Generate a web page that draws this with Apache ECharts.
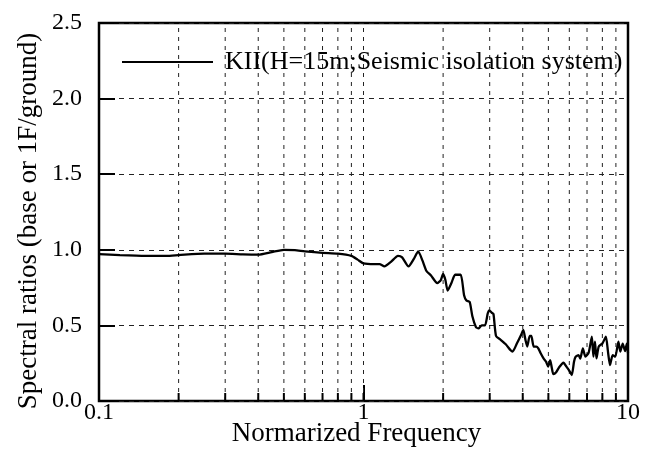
<!DOCTYPE html>
<html>
<head>
<meta charset="utf-8">
<script src="https://cdn.jsdelivr.net/npm/echarts@6/dist/echarts.min.js"></script>
<style>
  html, body { margin: 0; padding: 0; background: #fff; }
  #chart { width: 659px; height: 460px; }
</style>
</head>
<body>
<div id="chart"></div>
<script>
// Spectral ratio vs. normalized frequency
const seriesName = 'KII(H=15m;Seismic isolation system)';
const freq = [
  0.1, 0.12, 0.15, 0.18, 0.2, 0.25, 0.3, 0.35, 0.4, 0.45, 0.5, 0.55, 0.6, 0.7, 0.8, 0.9, 0.95,
  1.0, 1.1, 1.15, 1.2, 1.27, 1.35, 1.4, 1.48, 1.55, 1.61, 1.67, 1.73, 1.8, 1.9, 1.96, 2.0, 2.04,
  2.08, 2.15, 2.22, 2.33, 2.4, 2.45, 2.52, 2.58, 2.66, 2.72, 2.8, 2.88, 2.95, 2.99, 3.05, 3.1,
  3.17, 3.3, 3.45, 3.6, 3.66, 3.8, 3.95, 4.02, 4.1, 4.16, 4.25, 4.31, 4.4, 4.5, 4.58, 4.67, 4.8,
  4.9, 4.99, 5.08, 5.15, 5.22, 5.35, 5.5, 5.7, 5.85, 6.0, 6.13, 6.25, 6.34, 6.5, 6.6, 6.75, 6.9,
  7.1, 7.3, 7.4, 7.5, 7.6, 7.75, 8.0, 8.25, 8.4, 8.55, 8.75, 8.95, 9.2, 9.35, 9.55, 9.75, 9.9, 10
];
const ratio = [
  0.972, 0.965, 0.96, 0.96, 0.965, 0.975, 0.975, 0.97, 0.968, 0.985, 1.0, 0.998, 0.99, 0.98, 0.975, 0.96, 0.935,
  0.91, 0.905, 0.905, 0.89, 0.92, 0.96, 0.95, 0.89, 0.94, 0.99, 0.93, 0.86, 0.83, 0.78, 0.8, 0.84, 0.8,
  0.73, 0.78, 0.835, 0.835, 0.7, 0.665, 0.655, 0.56, 0.49, 0.48, 0.5, 0.5, 0.58, 0.6, 0.585, 0.575,
  0.43, 0.405, 0.375, 0.335, 0.326, 0.38, 0.44, 0.47, 0.4, 0.36, 0.43, 0.43, 0.36, 0.36, 0.348, 0.317, 0.28,
  0.26, 0.227, 0.27, 0.22, 0.178, 0.19, 0.225, 0.253, 0.227, 0.2, 0.172, 0.26, 0.293, 0.304, 0.28, 0.348, 0.293,
  0.32, 0.425, 0.293, 0.392, 0.282, 0.36, 0.38, 0.425, 0.326, 0.238, 0.304, 0.293, 0.392, 0.326, 0.38, 0.33, 0.38, 0.317
];
// Vertical grid positions (every integer multiple within each decade)
const gridFreqs = [0.2, 0.3, 0.4, 0.5, 0.6, 0.7, 0.8, 0.9, 1, 2, 3, 4, 5, 6, 7, 8, 9];
const yMin = 0, yMax = 2.5, yStep = 0.5;

const FONT = '"Liberation Serif", "Times New Roman", serif';
const chart = echarts.init(document.getElementById('chart'), null, { renderer: 'canvas' });

chart.setOption({
  animation: false,
  backgroundColor: '#fff',
  grid: {
    left: 99, right: 31, top: 23, bottom: 59,
    containLabel: false, outerBoundsMode: 'none',
    show: true, borderColor: '#000', borderWidth: 2.5, backgroundColor: 'transparent'
  },
  legend: {
    data: [seriesName],
    left: 122, top: 49, padding: 0,
    icon: 'rect', itemWidth: 91, itemHeight: 2,
    textStyle: { fontFamily: FONT, fontSize: 26, color: '#000', padding: [0, 0, 0, 7] },
    itemStyle: { color: '#000' }
  },
  xAxis: {
    type: 'log', logBase: 10, min: 0.1, max: 10,
    name: 'Normarized Frequency', nameLocation: 'middle', nameGap: 19, nameMoveOverlap: false,
    nameTextStyle: { fontFamily: FONT, fontSize: 27, color: '#000', padding: [0, 14, 0, 0] },
    axisLine: { show: false },
    axisTick: { show: true, inside: true, length: 16, lineStyle: { color: '#000', width: 2 } },
    axisLabel: { fontFamily: FONT, fontSize: 24, color: '#000', margin: 0 },
    splitLine: { show: false }
  },
  yAxis: {
    type: 'value', min: yMin, max: yMax, interval: yStep,
    name: 'Spectral ratios (base or 1F/ground)', nameLocation: 'middle', nameGap: 57, nameMoveOverlap: false,
    nameTextStyle: { fontFamily: FONT, fontSize: 27, color: '#000', padding: [0, 18, 0, 0] },
    axisLine: { show: false },
    axisTick: { show: true, inside: true, length: 16, lineStyle: { color: '#000', width: 2 } },
    axisLabel: {
      fontFamily: FONT, fontSize: 24, color: '#000', margin: 17,
      formatter: v => v.toFixed(1)
    },
    splitLine: { show: true, lineStyle: { color: '#222', width: 1, type: [5, 5] } }
  },
  series: [
    {
      // dashed vertical grid lines plus short inward minor ticks on the bottom axis
      type: 'custom',
      silent: true,
      z: 1,
      data: gridFreqs.map(f => [f]),
      renderItem: function (params, api) {
        const f = api.value(0);
        const bottom = api.coord([f, yMin]);
        const top = api.coord([f, yMax]);
        return {
          type: 'group',
          children: [
            {
              type: 'line',
              shape: { x1: bottom[0], y1: bottom[1], x2: top[0], y2: top[1] },
              style: { stroke: '#222', lineWidth: 1, lineDash: [4, 5] }
            },
            {
              type: 'line',
              shape: { x1: bottom[0], y1: bottom[1], x2: bottom[0], y2: bottom[1] - 8 },
              style: { stroke: '#000', lineWidth: 2 }
            }
          ]
        };
      }
    },
    {
      name: seriesName,
      type: 'line',
      z: 3,
      data: freq.map((f, i) => [f, ratio[i]]),
      showSymbol: false,
      smooth: 0.2,
      lineStyle: { color: '#000', width: 2.3 },
      itemStyle: { color: '#000' }
    }
  ]
});
</script>
</body>
</html>
